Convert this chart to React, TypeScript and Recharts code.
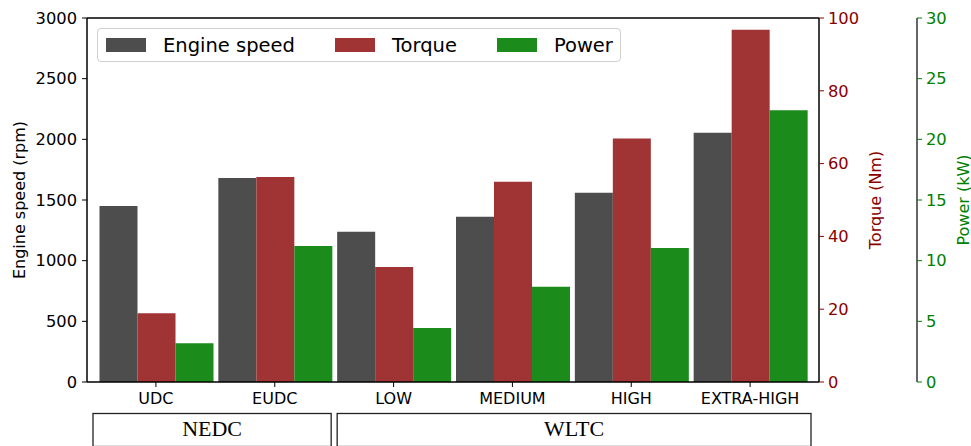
import React from "react";
import {
  BarChart,
  Bar,
  XAxis,
  YAxis,
  ReferenceLine,
} from "recharts";

const categories = ["UDC", "EUDC", "LOW", "MEDIUM", "HIGH", "EXTRA-HIGH"];
const cycles = ["NEDC", "NEDC", "WLTC", "WLTC", "WLTC", "WLTC"];
const engineSpeed = [1450, 1682, 1238, 1362, 1560, 2055];
const torque = [18.9, 56.3, 31.6, 55.0, 66.9, 96.8];
const power = [3.2, 11.2, 4.45, 7.85, 11.05, 22.4];

const rpmTicks = [0, 500, 1000, 1500, 2000, 2500, 3000];
const torqueTicks = [0, 20, 40, 60, 80, 100];
const powerTicks = [0, 5, 10, 15, 20, 25, 30];

const COLORS = {
  speed: "#4d4d4d",
  torque: "#a03333",
  power: "#1b8b1b",
  torqueAxis: "#8b0000",
  powerAxis: "#008000",
};

const data = categories.map((c, i) => ({
  phase: c,
  cycle: cycles[i],
  speed: engineSpeed[i],
  torque: torque[i],
  power: power[i],
}));

const FONT = "'DejaVu Sans', sans-serif";

// rotated axis title, x is measured from the axis' own left edge
// eslint-disable-next-line @typescript-eslint/no-explicit-any
const AxisTitle = ({ viewBox, text, dx, color }: any) => {
  const x = viewBox.x + dx;
  const y = viewBox.y + viewBox.height / 2;
  return (
    <text
      x={x}
      y={y}
      transform={`rotate(-90, ${x}, ${y})`}
      textAnchor="middle"
      dominantBaseline="central"
      fill={color}
      fontSize={16}
      fontFamily={FONT}
    >
      {text}
    </text>
  );
};

// boxes under the phase ticks, one per driving cycle
// eslint-disable-next-line @typescript-eslint/no-explicit-any
const CycleTick = ({ x, y, payload }: any) => {
  const i = payload.index;
  if (i > 0 && cycles[i - 1] === cycles[i]) return <g />;
  let n = 1;
  while (cycles[i + n] === cycles[i]) n++;
  const half = payload.offset || 59.4;
  const isLast = i + n >= cycles.length;
  const left = x - half + (i === 0 ? -3.5 : 3);
  const right = x - half + 2 * half * n + (isLast ? 1.5 : -3);
  return (
    <g>
      <rect
        x={left}
        y={y + 0.5}
        width={right - left}
        height={33}
        fill="#fff"
        stroke="#222"
        strokeWidth={1.3}
      />
      <text
        x={(left + right) / 2}
        y={y + 23}
        textAnchor="middle"
        fontSize={22}
        fontFamily="'Liberation Serif', 'DejaVu Serif', serif"
        fill="#000"
      >
        {cycles[i]}
      </text>
    </g>
  );
};

const legendItems = [
  { label: "Engine speed", color: COLORS.speed },
  { label: "Torque", color: COLORS.torque },
  { label: "Power", color: COLORS.power },
];

export default function App() {
  return (
    <div style={{ position: "absolute", left: 0, top: 0, width: 971, height: 446 }}>
      <BarChart
        width={971}
        height={446}
        data={data}
        margin={{ top: 18, right: 0, bottom: 0, left: 0 }}
        barGap={0}
        barCategoryGap={3}
        style={{ fontFamily: FONT }}
      >
        <XAxis
          dataKey="phase"
          xAxisId="a_phase"
          height={31}
          padding={{ left: 9.5, right: 9.5 }}
          tickSize={5}
          tickMargin={6}
          axisLine={{ stroke: "#000", strokeWidth: 1.5 }}
          tickLine={{ stroke: "#000" }}
          tick={{ fill: "#000", fontSize: 16 }}
          interval={0}
        />
        <XAxis
          dataKey="cycle"
          xAxisId="b_cycle"
          height={33}
          padding={{ left: 9.5, right: 9.5 }}
          axisLine={false}
          tickLine={false}
          tickSize={0}
          tickMargin={0}
          tick={<CycleTick />}
          interval={0}
        />
        <YAxis
          yAxisId="rpm"
          width={87}
          domain={[0, 3000]}
          ticks={rpmTicks}
          interval={0}
          tickSize={5}
          tickMargin={5}
          axisLine={{ stroke: "#000", strokeWidth: 1.5 }}
          tickLine={{ stroke: "#000" }}
          tick={{ fill: "#000", fontSize: 16.3 }}
          label={<AxisTitle text="Engine speed (rpm)" dx={19} color="#000" />}
        />
        <YAxis
          yAxisId="a_torque"
          orientation="right"
          width={98}
          domain={[0, 100]}
          ticks={torqueTicks}
          interval={0}
          tickSize={5}
          tickMargin={4}
          axisLine={{ stroke: "#000", strokeWidth: 1.5 }}
          tickLine={{ stroke: COLORS.torqueAxis }}
          tick={{ fill: COLORS.torqueAxis, fontSize: 16.3 }}
          label={<AxisTitle text="Torque (Nm)" dx={56} color={COLORS.torqueAxis} />}
        />
        <YAxis
          yAxisId="b_power"
          orientation="right"
          width={54}
          domain={[0, 30]}
          ticks={powerTicks}
          interval={0}
          tickSize={5}
          tickMargin={4}
          axisLine={{ stroke: "#333", strokeWidth: 1.5 }}
          tickLine={{ stroke: COLORS.powerAxis }}
          tick={{ fill: COLORS.powerAxis, fontSize: 16.3 }}
          label={<AxisTitle text="Power (kW)" dx={46} color={COLORS.powerAxis} />}
        />
        <Bar
          dataKey="speed"
          name="Engine speed"
          xAxisId="a_phase"
          yAxisId="rpm"
          fill={COLORS.speed}
          isAnimationActive={false}
        />
        <Bar
          dataKey="torque"
          name="Torque"
          xAxisId="a_phase"
          yAxisId="a_torque"
          fill={COLORS.torque}
          isAnimationActive={false}
        />
        <Bar
          dataKey="power"
          name="Power"
          xAxisId="a_phase"
          yAxisId="b_power"
          fill={COLORS.power}
          isAnimationActive={false}
        />
        <ReferenceLine
          y={3000}
          xAxisId="a_phase"
          yAxisId="rpm"
          stroke="#000"
          strokeWidth={1.5}
        />
      </BarChart>
      <div
        style={{
          position: "absolute",
          left: 97,
          top: 28,
          width: 514,
          height: 32,
          border: "1px solid #d0d0d0",
          borderRadius: 4,
          background: "rgba(255,255,255,0.8)",
          display: "flex",
          alignItems: "center",
          paddingLeft: 8,
          boxSizing: "content-box",
          fontFamily: FONT,
          fontSize: 19.5,
          color: "#000",
        }}
      >
        {legendItems.map((item, i) => (
          <div
            key={item.label}
            style={{ display: "flex", alignItems: "center", marginLeft: i === 0 ? 0 : 40 }}
          >
            <span
              style={{
                display: "inline-block",
                width: 40,
                height: 14,
                background: item.color,
                marginRight: 17,
              }}
            />
            <span>{item.label}</span>
          </div>
        ))}
      </div>
    </div>
  );
}
